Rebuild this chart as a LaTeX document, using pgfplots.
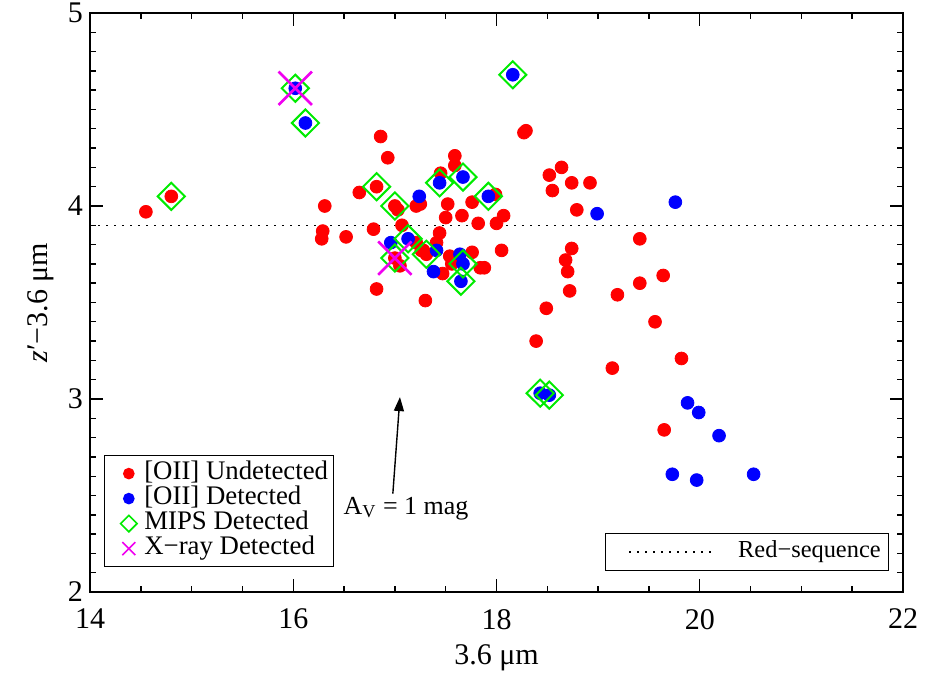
\documentclass[border=0pt]{standalone}
\usepackage{fontspec}
\setmainfont{Liberation Serif}
\usepackage{pgfplots}
\pgfplotsset{compat=1.18}
\usetikzlibrary{arrows.meta}

\definecolor{mipsgreen}{RGB}{0,235,0}
\definecolor{xraymag}{RGB}{240,0,240}

\pgfplotsset{
    legmark/.style={legend image code/.code={
        \path (0pt,0pt) (17pt,0pt);
        \draw[##1, mark size=#1, every mark/.append style={line width=0.8pt}] plot coordinates {(10pt,0pt)};
    }},
    legdots/.style={legend image code/.code={
        \path (0pt,0pt) (61.5pt,0pt);
        \draw[black, line width=0.75pt, dash pattern=on 0.75pt off 3.25pt] (11.5pt,0pt) -- (55pt,0pt);
    }},
}

\pgfplotstableread{
x y
14.55 3.97
14.80 4.05
16.28 3.83
16.29 3.87
16.31 4.00
16.52 3.84
16.65 4.07
16.79 3.88
16.82 4.10
16.82 3.57
16.86 4.36
16.93 4.25
17.00 4.00
17.03 3.98
17.00 3.73
17.05 3.69
17.07 3.90
17.21 4.00
17.25 4.01
17.21 3.81
17.26 3.77
17.28 3.77
17.31 3.75
17.30 3.51
17.41 3.81
17.44 3.86
17.47 3.65
17.45 4.17
17.50 3.94
17.52 4.01
17.54 3.74
17.56 3.70
17.59 4.26
17.59 4.21
17.66 3.95
17.76 4.02
17.76 3.76
17.82 3.91
17.84 3.68
17.88 3.68
17.99 4.06
18.00 3.91
18.05 3.77
18.07 3.95
18.27 4.38
18.29 4.39
18.39 3.30
18.49 3.47
18.52 4.16
18.55 4.08
18.64 4.20
18.68 3.72
18.70 3.66
18.72 3.56
18.74 4.12
18.74 3.78
18.79 3.98
18.92 4.12
19.14 3.16
19.19 3.54
19.41 3.83
19.41 3.60
19.56 3.40
19.64 3.64
19.65 2.84
19.82 3.21
}\undetected

\pgfplotstableread{
x y
16.02 4.61
16.12 4.43
16.96 3.81
17.13 3.83
17.24 4.05
17.38 3.66
17.41 3.77
17.44 4.12
17.64 3.75
17.65 3.61
17.67 3.70
17.67 4.15
17.92 4.05
18.16 4.68
18.43 3.03
18.52 3.02
18.99 3.96
19.76 4.02
19.88 2.98
19.99 2.93
20.19 2.81
19.73 2.61
19.97 2.58
20.53 2.61
}\detected

\pgfplotstableread{
x y
14.80 4.05
16.02 4.61
16.12 4.43
16.82 4.10
17.00 4.00
17.13 3.83
17.00 3.73
17.31 3.75
17.44 4.12
17.67 4.15
17.92 4.05
17.67 3.70
17.65 3.61
18.16 4.68
18.43 3.03
18.52 3.02
}\mips

\pgfplotstableread{
x y
16.02 4.61
17.00 3.73
}\xray

\begin{document}
\begin{tikzpicture}
\path[use as bounding box] (-45pt,-41pt) rectangle (423pt,296pt);

% red-sequence line with its own legend (drawn first, under the points)
\begin{axis}[
    scale only axis, width=406.5pt, height=289.5pt,
    xmin=14, xmax=22, ymin=2, ymax=5,
    hide axis,
    legend style={at={(axis description cs:0.983,0.036)}, anchor=south east,
        draw=black, line width=0.5pt, fill=white,
        font=\fontsize{12.2}{12.5}\selectfont,
        inner xsep=0pt, inner ysep=0pt,
        nodes={inner xsep=4pt, inner ysep=4pt, text height=8pt, text depth=2.5pt}},
]
\addplot[black, line width=0.75pt, dash pattern=on 0.75pt off 3.25pt, legdots]
    coordinates {(14,3.9) (22,3.9)};
\addlegendentry{Red−sequence}
\end{axis}

\begin{axis}[
    scale only axis, width=406.5pt, height=289.5pt,
    xmin=14, xmax=22, ymin=2, ymax=5,
    xtick={14,16,18,20,22}, ytick={2,3,4,5},
    minor x tick num=3, minor y tick num=9,
    tick align=inside,
    major tick length=6.5pt, minor tick length=3pt,
    tick style={black, line width=0.7pt},
    axis line style={black, line width=0.85pt},
    /pgf/number format/assume math mode=true,
    tick label style={font=\fontsize{15}{15}\selectfont},
    xticklabel style={yshift=-5pt},
    xlabel={3.6 μm},
    ylabel={{\itshape z}′−3.6 μm},
    label style={font=\fontsize{15}{15}\selectfont},
    xlabel style={at={(axis description cs:0.5,-0.126)}, anchor=base},
    ylabel style={at={(axis description cs:-0.0517,0.5)}, anchor=base},
    legend cell align=left,
    legend style={at={(axis description cs:0.017,0.043)}, anchor=south west,
        draw=black, line width=0.5pt, fill=white,
        font=\fontsize{13.4}{13.5}\selectfont,
        inner xsep=2pt, inner ysep=2.75pt,
        nodes={inner sep=0.5pt, text height=8.5pt, text depth=3pt}},
]
\addplot[only marks, mark=*, mark size=3.2pt, color=red, legmark=2.5pt]
    table {\undetected};
\addlegendentry{[OII] Undetected}

\addplot[only marks, mark=*, mark size=3.2pt, color=blue, legmark=2.5pt]
    table {\detected};
\addlegendentry{[OII] Detected}

\addplot[only marks, mark=square, mark size=4.8pt,
    mark options={draw=mipsgreen, fill=none, line width=1pt, rotate=45},
    legmark=2.9pt] table {\mips};
\addlegendentry{MIPS Detected}

\addplot[only marks, mark=x, mark size=11.8pt,
    mark options={draw=xraymag, line width=1.3pt},
    legmark=4.6pt] table {\xray};
\addlegendentry{X−ray Detected}

\draw[line width=0.7pt, -{Triangle[length=7pt,width=5pt]}]
    (axis cs:16.98,2.51) -- (axis cs:17.05,3.01);
\node[anchor=base, font=\fontsize{13}{13}\selectfont, inner sep=0pt]
    at (axis cs:17.11,2.404) {A\textsubscript{V} = 1 mag};
\end{axis}
\end{tikzpicture}
\end{document}
